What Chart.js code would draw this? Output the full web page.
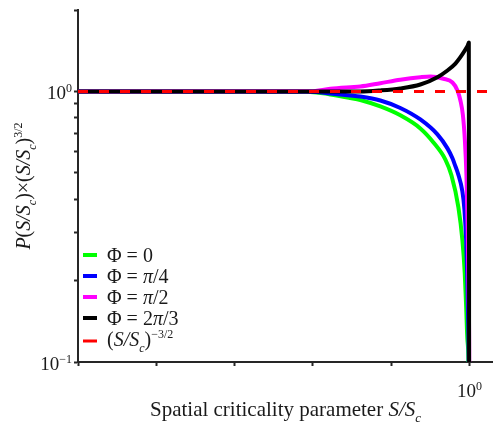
<!DOCTYPE html>
<html><head><meta charset="utf-8">
<script src="https://cdn.jsdelivr.net/npm/chart.js@4.4.1/dist/chart.umd.min.js"></script>
<style>html,body{margin:0;padding:0;background:#fff}</style>
</head><body>
<canvas id="c" width="493" height="424"></canvas>
<script>
// ---- data (S/Sc, P(S/Sc)·(S/Sc)^{3/2}) ----
const phi0X = [1e-5, 0.00927, 0.0167, 0.0301, 0.0404, 0.0728, 0.131, 0.236, 0.347, 0.493, 0.589, 0.723, 0.813, 0.871, 0.908, 0.942, 0.970, 0.985];
const phi0Y = [1, 0.996, 0.975, 0.946, 0.930, 0.880, 0.816, 0.730, 0.648, 0.560, 0.490, 0.373, 0.282, 0.213, 0.160, 0.121, 0.100, 0.05];

const phiQuarterX = [1e-5, 0.00927, 0.0167, 0.0301, 0.0404, 0.0728, 0.131, 0.236, 0.390, 0.524, 0.607, 0.662, 0.713, 0.813, 0.863, 0.908, 0.935, 0.957, 0.980, 0.990];
const phiQuarterY = [1, 0.998, 0.983, 0.967, 0.958, 0.926, 0.869, 0.788, 0.694, 0.616, 0.566, 0.529, 0.498, 0.427, 0.367, 0.282, 0.213, 0.156, 0.100, 0.05];

const phiHalfX = [1e-5, 0.00927, 0.0167, 0.0301, 0.0404, 0.0728, 0.131, 0.236, 0.317, 0.466, 0.607, 0.703, 0.767, 0.826, 0.875, 0.916, 0.951, 0.977, 0.994, 0.997];
const phiHalfY = [1, 1.002, 1.023, 1.037, 1.043, 1.073, 1.105, 1.129, 1.136, 1.114, 1.079, 1.009, 0.926, 0.816, 0.659, 0.490, 0.307, 0.169, 0.100, 0.05];

const phiTwoThirdX = [1e-5, 0.0404, 0.0728, 0.131, 0.236, 0.390, 0.524, 0.662, 0.767, 0.889, 0.951, 0.982, 0.992];
const phiTwoThirdY = [1, 1, 1.009, 1.026, 1.061, 1.129, 1.195, 1.268, 1.339, 1.429, 1.478, 1.516, 0.05];

const powerLawX = [1e-5, 2];
const powerLawY = [1, 1];

const seriesNames = ['Φ = 0', 'Φ = π/4', 'Φ = π/2', 'Φ = 2π/3', '(S/Sc)^−3/2'];
const seriesColors = ['#00ff00', '#0000ff', '#ff00ff', '#000000', '#ff0000'];

const xTickValues = [1e-5, 1e-4, 1e-3, 1e-2, 1e-1, 1];
const yTickValues = [0.1, 0.2, 0.3, 0.4, 0.5, 0.6, 0.7, 0.8, 0.9, 1, 2];
const xLabelValues = [1];
const xLabelExps = ['0'];
const yLabelValues = [1, 0.1];
const yLabelExps = ['0', '−1'];

// rich-text pieces (i: italic, sub/sup)
const legendParts = [
  [{t:'Φ = 0'}],
  [{t:'Φ = '},{t:'π',i:1},{t:'/4'}],
  [{t:'Φ = '},{t:'π',i:1},{t:'/2'}],
  [{t:'Φ = 2'},{t:'π',i:1},{t:'/3'}],
  [{t:'('},{t:'S/S',i:1},{t:'c',i:1,sub:1},{t:')'},{t:'−3/2',sup:1}]
];
const xTitleParts = [{t:'Spatial criticality parameter '},{t:'S/S',i:1},{t:'c',i:1,sub:1}];
const yTitleParts = [{t:'P',i:1},{t:'('},{t:'S/S',i:1},{t:'c',i:1,sub:1},{t:')×('},{t:'S/S',i:1},{t:'c',i:1,sub:1},{t:')'},{t:'3/2',sup:1}];

const FONT = "'Liberation Serif','Times New Roman',serif";
function fnt(p, size){
  const s = (p.sub || p.sup) ? Math.round(size * 0.62) : size;
  return (p.i ? 'italic ' : '') + s + 'px ' + FONT;
}
function rich(ctx, parts, x, y, size, align){
  let w = 0;
  const ws = parts.map(p => { ctx.font = fnt(p, size); const m = ctx.measureText(p.t).width; w += m; return m; });
  let cx = align === 'center' ? x - w/2 : (align === 'right' ? x - w : x);
  ctx.textAlign = 'left'; ctx.textBaseline = 'alphabetic';
  parts.forEach((p, k) => {
    ctx.font = fnt(p, size);
    const dy = p.sub ? size * 0.28 : (p.sup ? -size * 0.38 : 0);
    ctx.fillText(p.t, cx, y + dy);
    cx += ws[k];
  });
}

const pts = (xs, ys) => xs.map((x, k) => ({x: x, y: ys[k]}));

const textPlugin = {
  id: 'richText',
  afterDraw(chart){
    const ctx = chart.ctx, a = chart.chartArea;
    const xs = chart.scales.x, ys = chart.scales.y;
    ctx.save();
    ctx.fillStyle = '#1a1a1a';
    xLabelValues.forEach((v, k) => {
      rich(ctx, [{t:'10'},{t:xLabelExps[k],sup:1}], xs.getPixelForValue(v), a.bottom + 35, 19, 'center');
    });
    yLabelValues.forEach((v, k) => {
      rich(ctx, [{t:'10'},{t:yLabelExps[k],sup:1}], a.left - 6, ys.getPixelForValue(v) + 8, 19, 'right');
    });
    rich(ctx, xTitleParts, (a.left + a.right)/2, a.bottom + 54, 21, 'center');
    ctx.save();
    ctx.translate(30, (a.top + a.bottom)/2);
    ctx.rotate(-Math.PI/2);
    rich(ctx, yTitleParts, 0, 0, 20, 'center');
    ctx.restore();
    const rows = [262, 283, 304, 325, 346];
    const swY = [255, 276, 297, 318, 341];
    legendParts.forEach((parts, k) => {
      ctx.strokeStyle = seriesColors[k];
      ctx.lineWidth = k === 4 ? 3 : 4;
      ctx.beginPath();
      ctx.moveTo(a.left + 5, swY[k]);
      ctx.lineTo(a.left + 19, swY[k]);
      ctx.stroke();
      ctx.fillStyle = '#1a1a1a';
      rich(ctx, parts, a.left + 29, rows[k], 20, 'left');
    });
    ctx.restore();
  }
};

const baseDs = {fill:false, pointRadius:0, borderWidth:4, cubicInterpolationMode:'monotone', borderJoinStyle:'round', borderCapStyle:'butt'};

new Chart(document.getElementById('c'), {
  type: 'line',
  data: {
    datasets: [
      Object.assign({}, baseDs, {label: seriesNames[0], data: pts(phi0X, phi0Y), borderColor: seriesColors[0], order: 4}),
      Object.assign({}, baseDs, {label: seriesNames[1], data: pts(phiQuarterX, phiQuarterY), borderColor: seriesColors[1], order: 3}),
      Object.assign({}, baseDs, {label: seriesNames[2], data: pts(phiHalfX, phiHalfY), borderColor: seriesColors[2], order: 2}),
      Object.assign({}, baseDs, {label: seriesNames[3], data: pts(phiTwoThirdX, phiTwoThirdY), borderColor: seriesColors[3], order: 1}),
      Object.assign({}, baseDs, {label: seriesNames[4], data: pts(powerLawX, powerLawY), borderColor: seriesColors[4], borderWidth: 3, borderDash: [10, 11], order: 0})
    ]
  },
  options: {
    responsive: false,
    devicePixelRatio: 1,
    animation: false,
    layout: {padding: {top: 10, right: 0, left: 0, bottom: 0}},
    plugins: {legend: {display: false}, tooltip: {enabled: false}},
    scales: {
      x: {
        type: 'logarithmic', min: 1e-5, max: 2,
        afterBuildTicks: s => { s.ticks = xTickValues.map(v => ({value: v})); },
        afterFit: s => { s.height = 62; },
        ticks: {display: false},
        grid: {display: true, drawOnChartArea: false, drawTicks: true, tickLength: 4, tickWidth: 2, tickColor: '#262626', color: '#262626'},
        border: {display: true, color: '#262626', width: 2}
      },
      y: {
        type: 'logarithmic', min: 0.1, max: 2,
        afterBuildTicks: s => { s.ticks = yTickValues.map(v => ({value: v})); },
        afterFit: s => { s.width = 78; },
        ticks: {display: false},
        grid: {display: true, drawOnChartArea: false, drawTicks: true, tickLength: 4, tickWidth: 2, tickColor: '#262626', color: '#262626'},
        border: {display: true, color: '#262626', width: 2}
      }
    }
  },
  plugins: [textPlugin]
});
</script>
</body></html>
